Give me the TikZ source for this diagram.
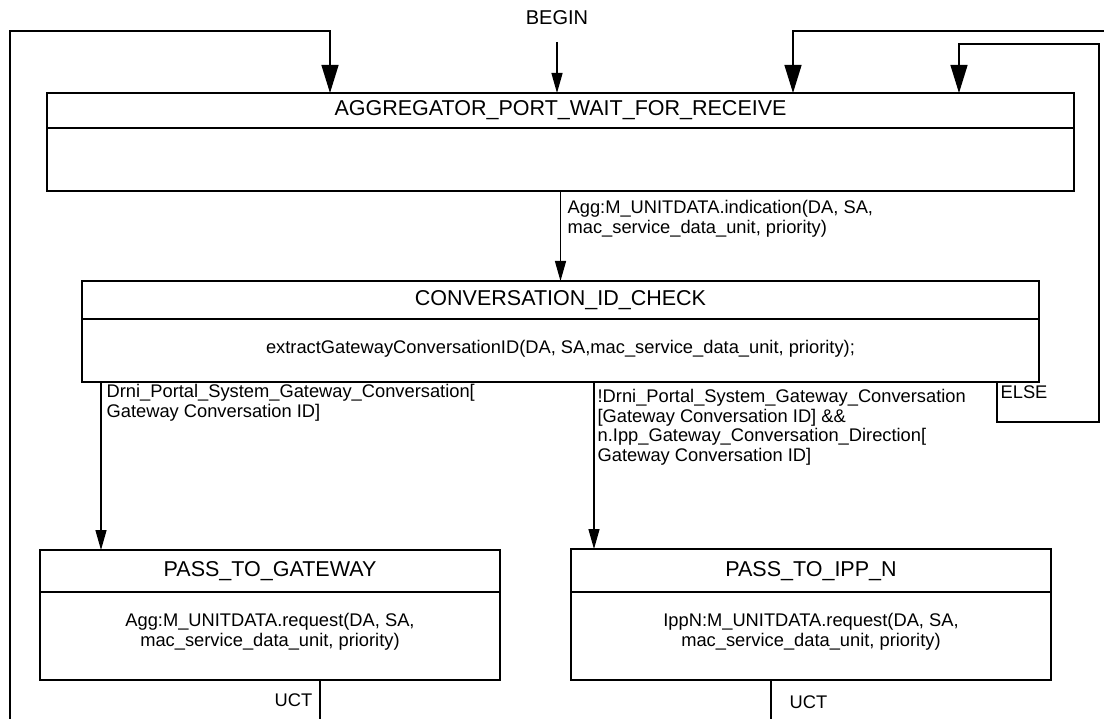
\documentclass[tikz,border=0pt]{standalone}
\usepackage{fontspec}
\setmainfont{Liberation Sans}
\usetikzlibrary{arrows.meta}
\begin{document}
\begin{tikzpicture}[x=1pt,y=-1pt,
  line width=1.3pt,
  statebox/.style={draw, rectangle, anchor=north west, inner sep=0pt, outer sep=0pt},
  titletext/.style={font=\fontsize{21.5}{24}\selectfont, inner sep=0pt},
  bodytext/.style={font=\fontsize{18.3}{19.8}\selectfont, inner sep=0pt, align=center},
  labeltext/.style={font=\fontsize{18.3}{19.4}\selectfont, inner sep=0pt, align=left},
  arr/.style={-{Triangle[length=20pt,width=11pt]}},
  bigarr/.style={-{Triangle[length=28pt,width=17pt]}}]
\useasboundingbox (0,0) rectangle (1104,719);

% state boxes
\node[statebox, minimum width=1027pt, minimum height=98pt] (agg) at (47,93) {};
\node[statebox, minimum width=957pt, minimum height=101pt] (conv) at (82,281) {};
\node[statebox, minimum width=460pt, minimum height=130pt] (pg) at (40,550) {};
\node[statebox, minimum width=480pt, minimum height=131pt] (pi) at (571,549) {};

% title separators
\coordinate (aggdiv) at (0,128);
\coordinate (convdiv) at (0,319);
\coordinate (pgdiv) at (0,592);
\draw (agg.west |- aggdiv) -- (agg.east |- aggdiv);
\draw (conv.west |- convdiv) -- (conv.east |- convdiv);
\draw (pg.west |- pgdiv) -- (pg.east |- pgdiv);
\draw (pi.west |- pgdiv) -- (pi.east |- pgdiv);

% titles and actions
\node[titletext] (aggT) at (560.5,110) {AGGREGATOR\_PORT\_WAIT\_FOR\_RECEIVE};
\node[titletext] (convT) at (560.5,300) {CONVERSATION\_ID\_CHECK};
\node[bodytext] (convB) at (560.5,349) {extractGatewayConversationID(DA, SA,mac\_service\_data\_unit, priority);};
\node[titletext] (pgT) at (270,571) {PASS\_TO\_GATEWAY};
\node[bodytext] (pgB) at (270,632) {Agg:M\_UNITDATA.request(DA, SA,\\mac\_service\_data\_unit, priority)};
\node[titletext] (piT) at (811,571) {PASS\_TO\_IPP\_N};
\node[bodytext] (piB) at (811,632) {IppN:M\_UNITDATA.request(DA, SA,\\mac\_service\_data\_unit, priority)};

% entry
\node[titletext, font=\fontsize{20}{24}\selectfont] (begin) at (557,18) {BEGIN};
\coordinate (beginstart) at (557,42);
\draw[arr] (beginstart) -- (beginstart |- agg.north);

% transitions
\draw[arr] (agg.south) -- (conv.north);
\node[labeltext, anchor=north west] (lblagg) at (567,200)
  {Agg:M\_UNITDATA.indication(DA, SA,\\mac\_service\_data\_unit, priority)};

\coordinate (lbx) at (101,0);
\draw[arr] (conv.south -| lbx) -- (pg.north -| lbx);
\node[labeltext, anchor=north west] (lblgw) at (106,384)
  {Drni\_Portal\_System\_Gateway\_Conversation{[}\\Gateway Conversation ID{]}};

\coordinate (mbx) at (594,0);
\draw[arr] (conv.south -| mbx) -- (pi.north -| mbx);
\node[labeltext, anchor=north west] (lblipp) at (597,389)
  {!Drni\_Portal\_System\_Gateway\_Conversation\\{[}Gateway Conversation ID{]} \&\&\\n.Ipp\_Gateway\_Conversation\_Direction{[}\\Gateway Conversation ID{]}};

% ELSE loop back to the wait state
\coordinate (ex) at (997,0);
\coordinate (e1) at (997,422);
\coordinate (e2) at (1099,422);
\coordinate (e3) at (1099,44);
\coordinate (e4) at (959,44);
\draw[bigarr] (conv.south -| ex) -- (e1) -- (e2) -- (e3) -- (e4) -- (e4 |- agg.north);
\node[labeltext, anchor=north west] (lblelse) at (1000,385) {ELSE};

% UCT exits
\coordinate (u1) at (320,719);
\draw (pg.south -| u1) -- (u1);
\node[labeltext, anchor=east] (lbluct1) at (313,700) {UCT};
\coordinate (u2) at (771,719);
\draw (pi.south -| u2) -- (u2);
\node[labeltext, anchor=west] (lbluct2) at (789,702) {UCT};

% returns into the wait state
\coordinate (l0) at (10,719);
\coordinate (l1) at (10,31);
\coordinate (l2) at (330,31);
\draw[bigarr] (l0) -- (l1) -- (l2) -- (l2 |- agg.north);
\coordinate (r0) at (1104,31);
\coordinate (r1) at (793,31);
\draw[bigarr] (r0) -- (r1) -- (r1 |- agg.north);
\end{tikzpicture}
\end{document}
